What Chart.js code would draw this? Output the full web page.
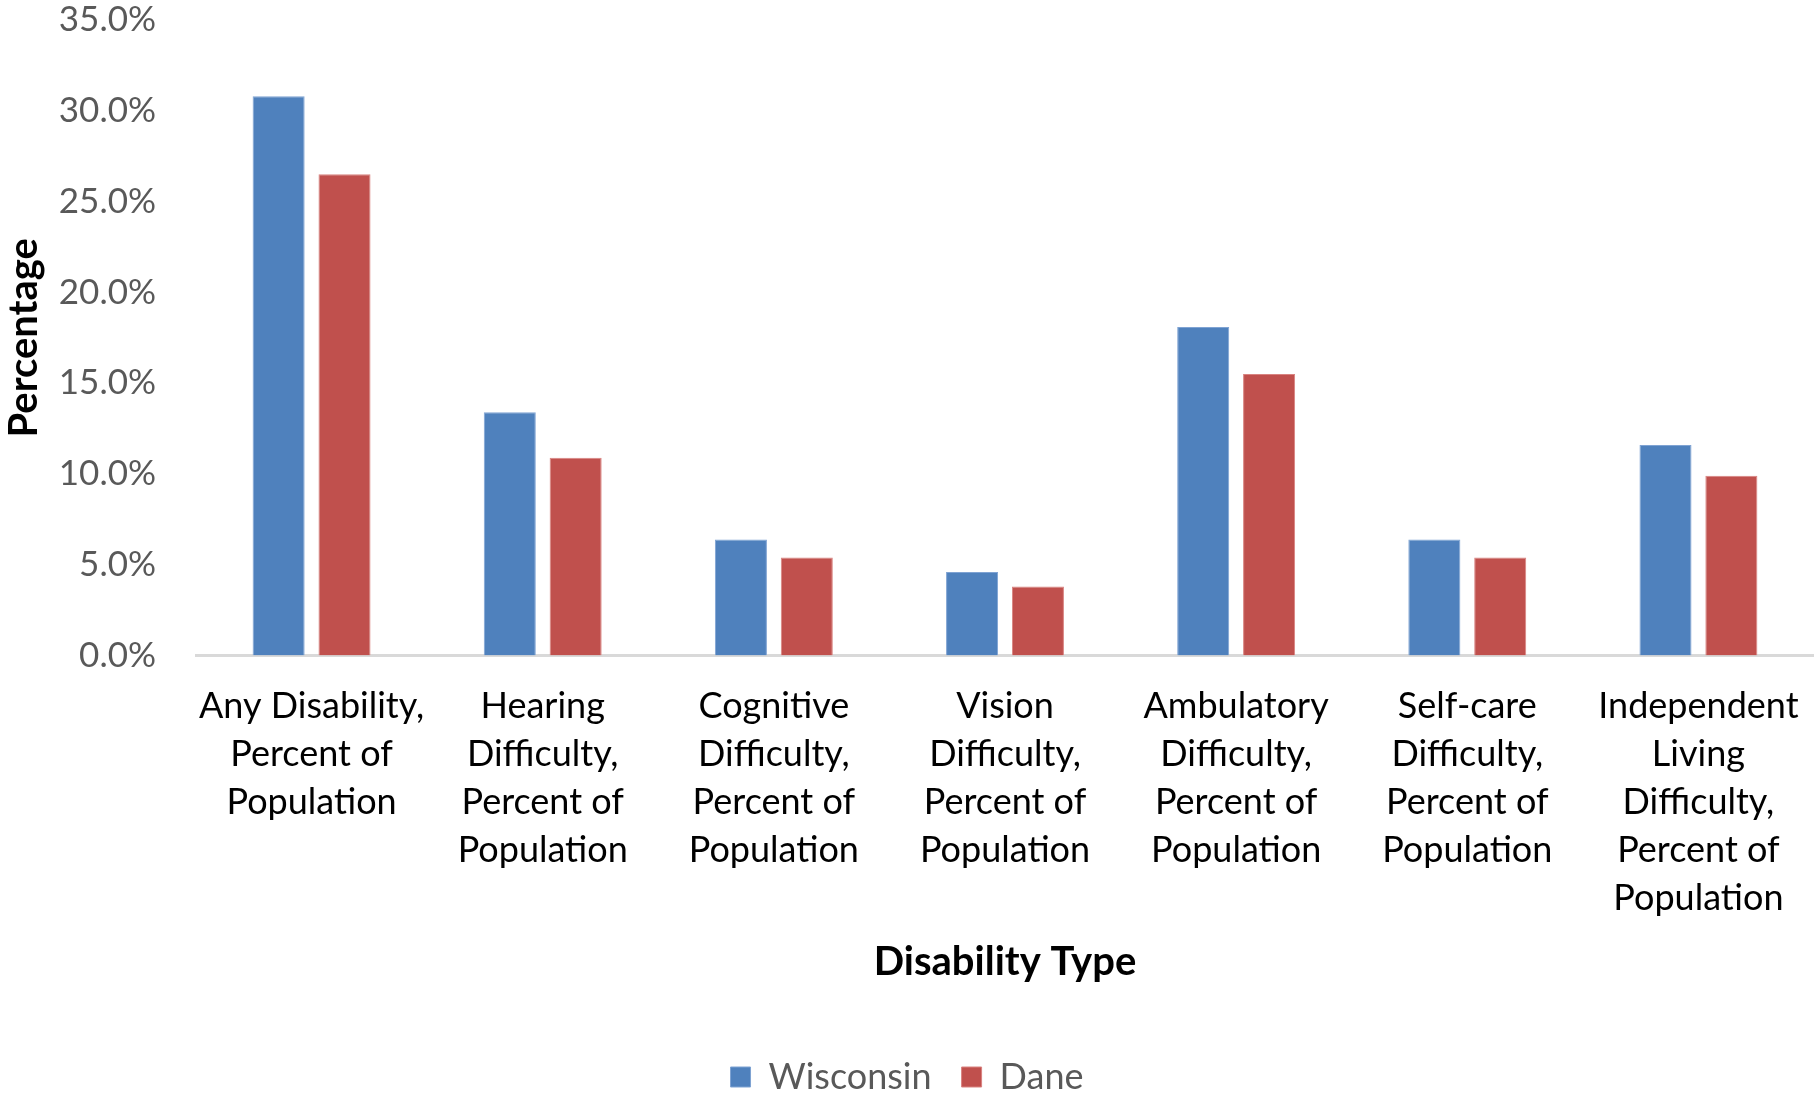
<!DOCTYPE html>
<html>
<head>
<meta charset="utf-8">
<script src="https://cdn.jsdelivr.net/npm/chart.js@4.4.1/dist/chart.umd.min.js"></script>
<style>
  html, body { margin: 0; padding: 0; background: #fff; }
  #wrap { width: 1814px; height: 1097px; }
</style>
</head>
<body>
<div id="wrap"><canvas id="barChart"></canvas></div>
<script>
// Disability type by area, percent of population
const categories = [
  ['Any Disability,', 'Percent of', 'Population'],
  ['Hearing', 'Difficulty,', 'Percent of', 'Population'],
  ['Cognitive', 'Difficulty,', 'Percent of', 'Population'],
  ['Vision', 'Difficulty,', 'Percent of', 'Population'],
  ['Ambulatory', 'Difficulty,', 'Percent of', 'Population'],
  ['Self-care', 'Difficulty,', 'Percent of', 'Population'],
  ['Independent', 'Living', 'Difficulty,', 'Percent of', 'Population']
];
const wisconsin = [30.8, 13.4, 6.4, 4.6, 18.1, 6.4, 11.6];
const dane      = [26.5, 10.9, 5.4, 3.8, 15.5, 5.4, 9.9];
const yMin = 0, yMax = 35, yStep = 5;

const FONT = 'Lato, "Open Sans", sans-serif';

new Chart(document.getElementById('barChart'), {
  type: 'bar',
  data: {
    labels: categories,
    datasets: [
      { label: 'Wisconsin', data: wisconsin, backgroundColor: '#4F81BD', borderColor: '#7FA3D3', borderWidth: 1 },
      { label: 'Dane', data: dane, backgroundColor: '#C0504D', borderColor: '#D98380', borderWidth: 1 }
    ]
  },
  options: {
    responsive: true,
    maintainAspectRatio: false,
    animation: false,
    categoryPercentage: 0.57,
    barPercentage: 0.79,
    layout: { padding: { left: 0, right: 0, top: 0, bottom: -8 } },
    plugins: {
      legend: {
        display: true,
        position: 'bottom',
        labels: {
          font: { family: FONT, size: 36 },
          color: '#595959',
          boxWidth: 20,
          boxHeight: 20,
          padding: 30,
          useBorderRadius: false
        }
      },
      tooltip: { enabled: false }
    },
    scales: {
      x: {
        grid: { display: false, drawTicks: false },
        border: { display: true, color: '#D9D9D9', width: 3 },
        ticks: {
          color: '#000',
          font: { family: FONT, size: 36, lineHeight: 1.33 },
          padding: 27,
          maxRotation: 0,
          autoSkip: false
        },
        title: {
          display: true,
          text: 'Disability Type',
          color: '#000',
          font: { family: FONT, size: 40, weight: 'bold' },
          padding: { top: -11, bottom: 43 }
        },
        afterFit: s => { s.paddingLeft = 0; s.paddingRight = 0; }
      },
      y: {
        min: yMin,
        max: yMax,
        grid: { display: false, drawTicks: false },
        border: { display: false },
        ticks: {
          stepSize: yStep,
          color: '#595959',
          font: { family: FONT, size: 35 },
          padding: 40,
          callback: v => v.toFixed(1) + '%'
        },
        title: {
          display: true,
          text: 'Percentage',
          color: '#000',
          font: { family: FONT, size: 40, weight: 'bold' },
          padding: 0
        },
        afterFit: s => { s.width = 196; s.paddingTop = 20; s.paddingBottom = 20; }
      }
    }
  }
});
</script>
</body>
</html>
